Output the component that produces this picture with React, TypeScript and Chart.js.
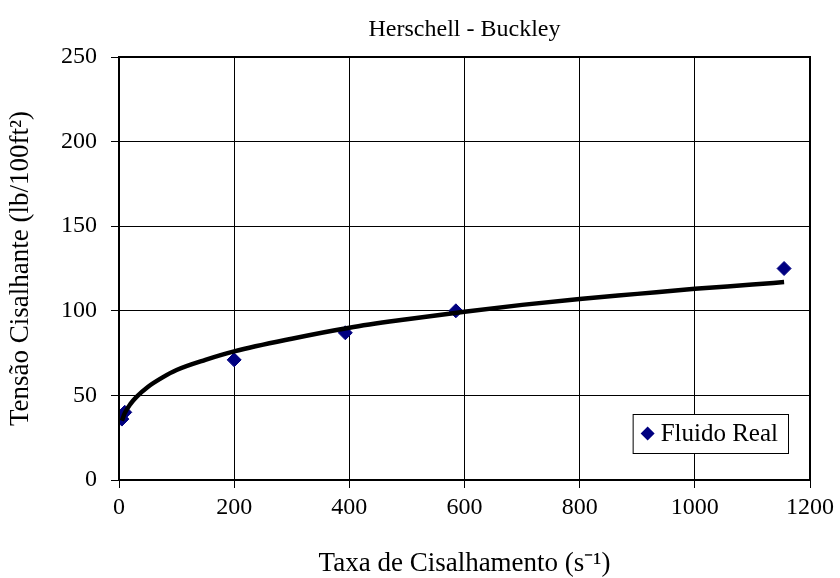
import React, { useEffect, useRef } from "react";
import { Chart, registerables } from "chart.js";

Chart.register(...registerables);

const chartTitle = "Herschell - Buckley";
const xTitle = "Taxa de Cisalhamento (s\u207B\u00B9)";
const yTitle = "Tensão Cisalhante (lb/100ft\u00B2)";
const seriesLabel = "Fluido Real";

// measured points
const shearRate = [5, 10, 200, 393, 585, 1155];
const shearStress = [36, 40, 71, 87, 100, 125];

// fitted curve
const fitRate = [5, 10, 20, 30, 50, 75, 100, 150, 200, 300, 400, 500, 600, 700, 800, 900, 1000, 1100, 1155];
const fitStress = [35, 39.5, 45, 49, 55, 60.5, 65, 71, 76, 83.5, 90, 95, 99.5, 103.5, 107, 110, 113, 115.5, 117];

const FONT = "'Liberation Serif', 'Times New Roman', serif";

const frameAndLegend = {
  id: "frameAndLegend",
  afterDraw(chart: any) {
    const { ctx, chartArea } = chart;
    ctx.save();
    // plot frame
    ctx.strokeStyle = "#000";
    ctx.lineWidth = 2;
    ctx.strokeRect(chartArea.left, chartArea.top, chartArea.right - chartArea.left, chartArea.bottom - chartArea.top);
    // legend
    const label = chart.data.datasets[1].label;
    ctx.font = `25px ${FONT}`;
    const tw = ctx.measureText(label).width;
    const boxW = 8 + 14 + 6 + tw + 10;
    const boxH = 39;
    const right = chartArea.right - 22;
    const bottom = chartArea.bottom - 27;
    const left = right - boxW;
    const top = bottom - boxH;
    ctx.fillStyle = "#fff";
    ctx.fillRect(left, top, boxW, boxH);
    ctx.lineWidth = 1;
    ctx.strokeStyle = "#000";
    ctx.strokeRect(left + 0.5, top + 0.5, boxW, boxH);
    const cx = left + 8 + 7;
    const cy = top + boxH / 2;
    ctx.fillStyle = "#000080";
    ctx.beginPath();
    ctx.moveTo(cx, cy - 7);
    ctx.lineTo(cx + 7, cy);
    ctx.lineTo(cx, cy + 7);
    ctx.lineTo(cx - 7, cy);
    ctx.closePath();
    ctx.fill();
    ctx.fillStyle = "#000";
    ctx.textBaseline = "middle";
    ctx.textAlign = "left";
    ctx.fillText(label, cx + 7 + 6, cy + 1);
    ctx.restore();
  },
};

export default function App() {
  const ref = useRef<HTMLCanvasElement | null>(null);

  useEffect(() => {
    if (!ref.current) return;
    const chart = new Chart(ref.current, {
      type: "scatter",
      data: {
        datasets: [
          {
            type: "line",
            label: "Ajuste",
            data: fitRate.map((x, i) => ({ x, y: fitStress[i] })),
            borderColor: "#000",
            borderWidth: 4.5,
            pointRadius: 0,
            cubicInterpolationMode: "monotone",
            fill: false,
            order: 0,
          } as any,
          {
            type: "scatter",
            label: seriesLabel,
            data: shearRate.map((x, i) => ({ x, y: shearStress[i] })),
            backgroundColor: "#000080",
            borderColor: "#000080",
            pointStyle: "rectRot",
            pointRadius: 7,
            pointHoverRadius: 7,
            order: 1,
          },
        ],
      },
      options: {
        responsive: false,
        animation: false,
        layout: { padding: { left: 0, right: 30, top: 0, bottom: 0 } },
        plugins: {
          legend: { display: false },
          tooltip: { enabled: false },
          title: {
            display: true,
            text: chartTitle,
            fullSize: false,
            color: "#000",
            font: { family: FONT, size: 24, weight: "normal", lineHeight: 1.2 },
            padding: { top: 15.6, bottom: 12.6 },
          },
        },
        scales: {
          x: {
            type: "linear",
            min: 0,
            max: 1200,
            afterFit(scale: any) {
              scale.height = 98;
            },
            ticks: {
              stepSize: 200,
              color: "#000",
              font: { family: FONT, size: 24 },
              padding: 5,
              maxRotation: 0,
              callback: (v: any) => String(v),
            },
            grid: { color: "#000", lineWidth: 1, drawTicks: true, tickLength: 8 },
            border: { color: "#000", width: 2 },
            title: {
              display: true,
              text: xTitle,
              color: "#000",
              font: { family: FONT, size: 27, lineHeight: 1.0 },
              padding: { top: 0, bottom: 0.5 },
            },
          },
          y: {
            type: "linear",
            min: 0,
            max: 250,
            afterFit(scale: any) {
              scale.width = 119;
            },
            ticks: {
              stepSize: 50,
              color: "#000",
              font: { family: FONT, size: 24 },
              padding: 14,
              callback: (v: any) => String(v),
            },
            grid: { color: "#000", lineWidth: 1, drawTicks: true, tickLength: 8 },
            border: { color: "#000", width: 2 },
            title: {
              display: true,
              text: yTitle,
              color: "#000",
              font: { family: FONT, size: 27, lineHeight: 1.0 },
              padding: { top: 7.5, bottom: 0 },
            },
          },
        },
      },
      plugins: [frameAndLegend],
    });
    return () => chart.destroy();
  }, []);

  return (
    <div style={{ position: "fixed", left: 0, top: 0, width: 840, height: 578, background: "#fff" }}>
      <canvas ref={ref} width={840} height={578} style={{ width: 840, height: 578 }} />
    </div>
  );
}
